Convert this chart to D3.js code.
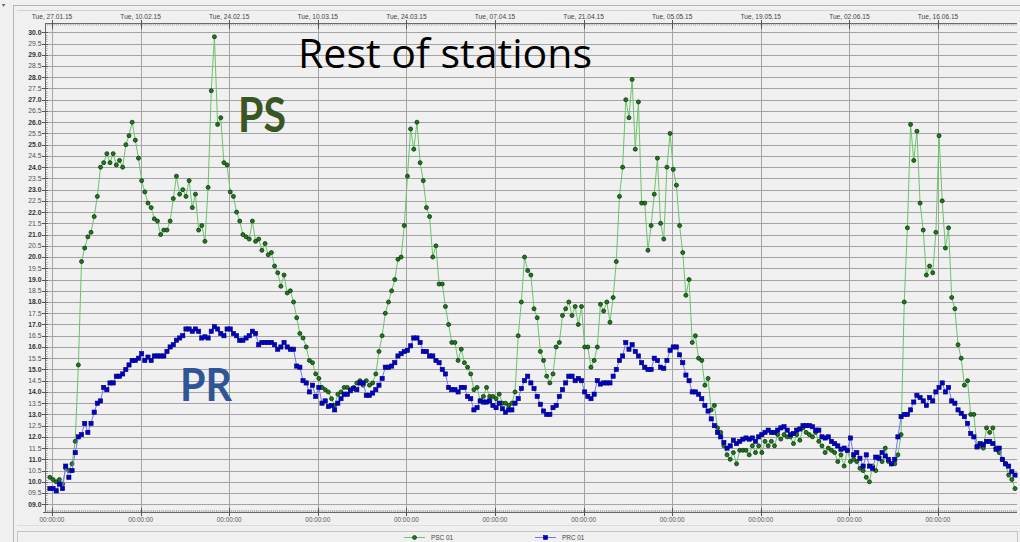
<!DOCTYPE html>
<html><head><meta charset="utf-8">
<script src="https://cdn.jsdelivr.net/npm/d3@7"></script>
<style>body{margin:0;background:#f0f0f0}svg{display:block}</style>
</head><body><svg id="c" width="1020" height="542"></svg>
<script>
const title = "Rest of stations";
const seriesNames = ["PSC 01", "PRC 01"];
const annotations = ["PS", "PR"];
const topTickLabels = ["Tue, 27.01.15","Tue, 10.02.15","Tue, 24.02.15","Tue, 10.03.15","Tue, 24.03.15","Tue, 07.04.15","Tue, 21.04.15","Tue, 05.05.15","Tue, 19.05.15","Tue, 02.06.15","Tue, 16.06.15"];
const bottomTickLabel = "00:00:00";
const startTime = "2015-01-26T16:00:00Z";
const stepHours = 12;
const yMin = 9, yMax = 30, yStep = 0.5;

const psValues = [
10.2,10.1,10.0,10.1,9.9,10.6,10.5,10.8,11.8,15.2,
19.8,20.4,20.9,21.1,21.8,22.7,24.0,24.2,24.6,24.2,
24.6,24.1,24.3,24.0,25.0,25.4,26.0,25.2,24.4,23.4,
22.9,22.4,22.2,21.7,21.6,21.0,21.2,21.2,21.6,22.6,
23.6,22.8,23.0,22.7,23.4,22.2,22.8,21.2,21.4,20.7,
23.1,27.4,29.8,25.9,26.2,24.2,24.1,22.9,22.7,22.0,
21.6,21.0,20.9,20.8,21.6,20.7,20.8,20.3,20.6,20.1,
20.2,19.6,19.3,18.7,19.2,18.4,18.5,18.0,17.3,16.6,
16.4,16.0,15.4,15.3,14.8,14.6,14.2,14.1,14.0,13.7,
13.4,13.9,14.0,14.2,14.2,14.1,14.2,14.4,14.5,14.3,
14.5,14.3,14.4,14.8,15.8,16.5,17.5,18.0,18.5,19.0,
19.9,20.0,21.4,23.6,25.7,24.8,26.0,24.2,23.4,22.2,
21.8,20.0,20.5,18.8,18.8,17.8,17.0,16.2,16.2,15.4,
15.9,15.3,15.1,14.8,14.1,14.2,13.6,13.8,14.2,13.8,
13.8,13.7,13.9,13.5,13.5,13.4,13.5,14.0,16.5,18.0,
20.0,19.4,19.2,17.7,17.3,15.8,15.4,14.7,14.4,14.8,
16.0,16.2,17.4,17.7,18.0,17.4,17.8,17.0,17.8,16.0,
16.0,15.1,15.4,16.0,17.9,17.6,18.0,17.1,18.2,19.8,
22.7,24.0,27.0,26.2,27.9,24.8,26.9,22.4,22.4,20.3,
21.4,22.8,24.4,21.5,20.8,24.0,25.5,23.9,23.2,21.4,
20.2,18.3,19.0,16.2,16.5,15.5,15.4,14.3,14.6,13.2,
13.4,12.4,12.2,11.6,11.2,11.0,11.3,10.8,11.4,11.4,
11.4,11.2,11.6,11.3,11.6,11.3,11.8,11.6,11.8,11.6,
12.1,11.9,12.1,12.0,12.0,11.7,12.1,11.85,12.4,12.2,
12.1,12.0,12.2,11.8,11.6,11.3,11.5,11.4,11.3,10.9,
11.2,10.7,11.4,10.9,11.0,10.9,10.6,10.5,10.2,10.0,
10.7,10.5,11.1,10.9,11.5,10.9,10.8,10.8,11.2,12.1,
18.0,21.3,25.9,24.3,25.6,22.4,21.2,19.2,19.6,19.3,
21.1,25.4,22.5,20.4,21.3,18.2,17.7,16.1,15.5,14.3,
14.5,13.0,13.0,11.6,11.6,11.5,12.4,12.2,12.4,11.5,
11.3,11.0,10.8,10.3,10.1,9.7
];

const prValues = [
9.7,9.7,9.6,9.9,9.7,10.7,10.2,10.5,11.3,12.0,
12.1,12.6,12.2,12.6,13.1,13.5,13.6,14.2,14.1,14.4,
14.4,14.7,14.7,14.8,15.0,15.2,15.4,15.4,15.5,15.7,
15.4,15.55,15.4,15.6,15.6,15.6,15.6,15.8,16.0,16.1,
16.3,16.4,16.5,16.8,16.8,16.7,16.8,16.7,16.4,16.45,
16.4,16.7,16.9,16.8,16.6,16.5,16.8,16.8,16.6,16.5,
16.3,16.3,16.4,16.5,16.7,16.6,16.1,16.2,16.2,16.2,
16.2,16.1,15.9,16.0,16.2,16.0,15.9,15.9,15.15,15.1,
14.5,14.4,14.0,14.3,13.8,14.2,13.5,13.6,13.35,13.4,
13.2,13.5,13.7,13.9,13.9,14.05,14.15,14.1,14.4,14.4,
13.85,13.85,13.95,14.1,14.3,14.6,15.1,15.1,15.15,15.3,
15.6,15.7,15.8,15.85,16.05,16.4,16.4,16.2,15.8,15.8,
15.6,15.6,15.4,15.3,15.0,14.8,14.2,14.1,14.1,14.0,
14.2,14.2,13.8,13.7,13.2,13.3,13.6,13.55,13.55,13.6,
13.4,13.3,13.5,13.25,13.1,13.2,13.2,13.5,13.7,14.15,
14.5,14.7,14.4,14.15,13.8,13.45,13.15,13.0,13.0,13.3,
13.4,13.8,14.1,14.4,14.7,14.7,14.5,14.6,14.5,14.0,
13.8,13.7,13.9,14.5,14.35,14.4,14.4,14.4,14.7,15.0,
15.4,15.6,16.2,15.9,16.1,15.8,15.6,15.3,15.1,15.0,
15.0,15.5,15.4,15.1,15.05,15.4,15.85,16.0,16.0,15.65,
15.3,14.75,14.5,14.0,14.0,13.9,13.7,13.4,13.15,12.8,
12.5,12.2,12.0,11.75,11.5,11.6,11.85,11.7,11.8,11.9,
11.95,11.9,11.95,11.8,12.0,12.1,12.2,12.3,12.2,12.2,
12.3,12.4,12.45,12.3,12.1,12.15,12.3,12.35,12.5,12.5,
12.5,12.45,12.3,12.3,12.0,11.95,12.0,11.8,11.7,11.6,
11.45,11.5,11.4,11.95,11.2,11.3,11.05,10.7,11.2,10.7,
10.6,11.1,11.05,11.3,11.15,11.0,10.8,11.0,12.0,12.9,
13.0,13.0,13.2,13.55,13.85,13.75,13.6,13.4,13.75,13.6,
14.0,14.2,14.4,14.0,14.2,13.6,13.5,13.2,13.05,12.9,
12.6,12.15,12.0,11.55,11.7,11.65,11.8,11.8,11.7,11.45,
11.5,11.0,10.8,10.7,10.45,10.3
];

const svg = d3.select("#c");
const W = 1020, H = 542;
const axisX = 45, rightX = 1017, rulerY = 23, bottomY = 512;
const parseTick = d3.utcParse("%a, %d.%m.%y");
const tickDates = topTickLabels.map(parseTick);
const t0 = new Date(startTime);
const timeAt = i => new Date(t0.getTime() + i * stepHours * 3600e3);

const x = d3.scaleUtc().domain([tickDates[0], tickDates[tickDates.length - 1]]).range([52, 938]);
const y = d3.scaleLinear().domain([yMin, yMax]).range([504.3, 32.3]);
const xEnd = x.invert(rightX), xStart = x.invert(axisX);

svg.append("rect").attr("width", W).attr("height", H).attr("fill", "#f0f0f0");
svg.append("rect").attr("x", 13.5).attr("y", 5.5).attr("width", W).attr("height", H)
  .attr("fill", "none").attr("stroke", "#b4b4b4");
svg.append("line").attr("x1", 17).attr("x2", W).attr("y1", 10.5).attr("y2", 10.5).attr("stroke", "#d2d2d2");
svg.append("text").attr("x", 2).attr("y", 7).attr("font-size", 6).attr("fill", "#555")
  .attr("font-family", "Liberation Sans, Arial").text("▾");

const yTicks = d3.range(yMin, yMax + 1e-9, yStep);
svg.append("g").selectAll("line").data(yTicks).join("line")
  .attr("x1", axisX).attr("x2", rightX)
  .attr("y1", d => Math.round(y(d)) + 0.5).attr("y2", d => Math.round(y(d)) + 0.5)
  .attr("stroke", "#a4a4a4").attr("stroke-width", 1);
svg.append("g").selectAll("line").data(tickDates).join("line")
  .attr("x1", d => Math.round(x(d)) + 0.5).attr("x2", d => Math.round(x(d)) + 0.5)
  .attr("y1", rulerY).attr("y2", bottomY)
  .attr("stroke", "#a4a4a4");

const yAxisG = svg.append("g");
yAxisG.append("line").attr("x1", axisX + 0.5).attr("x2", axisX + 0.5).attr("y1", rulerY).attr("y2", bottomY).attr("stroke", "#666");
const yMinor = d3.range(yMin, yMax + 1e-9, 0.1);
yAxisG.selectAll("line.mn").data(yMinor).join("line").attr("class", "mn")
  .attr("x1", axisX).attr("x2", axisX + 2.5)
  .attr("y1", d => Math.round(y(d)) + 0.5).attr("y2", d => Math.round(y(d)) + 0.5)
  .attr("stroke", "#777").attr("stroke-width", 0.6);
yAxisG.selectAll("line.mj").data(yTicks).join("line").attr("class", "mj")
  .attr("x1", axisX - 3).attr("x2", axisX + 3)
  .attr("y1", d => Math.round(y(d)) + 0.5).attr("y2", d => Math.round(y(d)) + 0.5)
  .attr("stroke", "#555");
const fmtY = d => (d < 10 ? "0" : "") + d.toFixed(1);
yAxisG.selectAll("text").data(yTicks).join("text")
  .attr("x", axisX - 3.5).attr("y", d => y(d) + 2.4)
  .attr("text-anchor", "end").attr("font-family", "Liberation Sans, Arial")
  .attr("font-size", 6.8).attr("font-weight", d => Number.isInteger(d) ? "bold" : "normal")
  .attr("fill", d => Number.isInteger(d) ? "#333" : "#555").text(fmtY);

const topG = svg.append("g");
topG.append("line").attr("x1", axisX).attr("x2", rightX).attr("y1", rulerY + 0.5).attr("y2", rulerY + 0.5).attr("stroke", "#666");
const minorTimes = d3.utcHour.every(8).range(xStart, xEnd);
topG.selectAll("line.mn").data(minorTimes).join("line").attr("class", "mn")
  .attr("x1", d => x(d)).attr("x2", d => x(d)).attr("y1", rulerY).attr("y2", rulerY + 2.5)
  .attr("stroke", "#777").attr("stroke-width", 0.6);
topG.selectAll("line.mj").data(tickDates).join("line").attr("class", "mj")
  .attr("x1", d => Math.round(x(d)) + 0.5).attr("x2", d => Math.round(x(d)) + 0.5)
  .attr("y1", rulerY - 3).attr("y2", rulerY + 6).attr("stroke", "#555");
topG.selectAll("text").data(topTickLabels).join("text")
  .attr("x", (d, i) => x(tickDates[i])).attr("y", 19)
  .attr("text-anchor", "middle").attr("font-family", "Liberation Sans, Arial")
  .attr("font-size", 6.6).attr("fill", "#444").text(d => d);

const botG = svg.append("g");
botG.append("line").attr("x1", axisX - 2).attr("x2", rightX).attr("y1", bottomY + 0.5).attr("y2", bottomY + 0.5).attr("stroke", "#666");
botG.selectAll("line.mn").data(minorTimes).join("line").attr("class", "mn")
  .attr("x1", d => x(d)).attr("x2", d => x(d)).attr("y1", bottomY - 2).attr("y2", bottomY)
  .attr("stroke", "#777").attr("stroke-width", 0.6);
botG.selectAll("line.mj").data(tickDates).join("line").attr("class", "mj")
  .attr("x1", d => Math.round(x(d)) + 0.5).attr("x2", d => Math.round(x(d)) + 0.5)
  .attr("y1", bottomY - 4).attr("y2", bottomY + 4).attr("stroke", "#555");
botG.selectAll("text").data(tickDates).join("text")
  .attr("x", d => x(d)).attr("y", 521.5)
  .attr("text-anchor", "middle").attr("font-family", "Liberation Sans, Arial")
  .attr("font-size", 6.4).attr("fill", "#555").text(bottomTickLabel);

svg.append("line").attr("x1", 17).attr("x2", W).attr("y1", 525.5).attr("y2", 525.5).attr("stroke", "#dcdcdc");
svg.append("rect").attr("x", 17.5).attr("y", 531.5).attr("width", 1000).attr("height", 20)
  .attr("fill", "#f0f0f0").attr("stroke", "#c4c4c4");

const ps = psValues.map((v, i) => ({t: timeAt(i), v}));
const pr = prValues.map((v, i) => ({t: timeAt(i), v}));
const line = d3.line().x(d => x(d.t)).y(d => y(d.v));

const plot = svg.append("g");
plot.append("path").datum(ps).attr("d", line).attr("fill", "none").attr("stroke", "#6cc46c").attr("stroke-width", 1);
plot.append("g").selectAll("circle").data(ps).join("circle")
  .attr("cx", d => x(d.t)).attr("cy", d => y(d.v)).attr("r", 2.0)
  .attr("fill", "#1f7a1f").attr("stroke", "#0b330b").attr("stroke-width", 0.8);
plot.append("path").datum(pr).attr("d", line).attr("fill", "none").attr("stroke", "#7474ff").attr("stroke-width", 1);
plot.append("g").selectAll("rect").data(pr).join("rect")
  .attr("x", d => x(d.t) - 2.1).attr("y", d => y(d.v) - 2.1).attr("width", 4.2).attr("height", 4.2)
  .attr("fill", "#0000d2").attr("stroke", "#000060").attr("stroke-width", 0.6);

const legend = [
  {name: seriesNames[0], x0: 404, type: "c", line: "#6cc46c", fill: "#1f7a1f", stroke: "#0b330b"},
  {name: seriesNames[1], x0: 535, type: "s", line: "#7474ff", fill: "#0000d2", stroke: "#000060"}
];
const lg = svg.append("g").selectAll("g").data(legend).join("g");
lg.append("line").attr("x1", d => d.x0).attr("x2", d => d.x0 + 21).attr("y1", 537.5).attr("y2", 537.5)
  .attr("stroke", d => d.line);
lg.filter(d => d.type === "c").append("circle").attr("cx", d => d.x0 + 10.5).attr("cy", 537.5).attr("r", 2.0)
  .attr("fill", d => d.fill).attr("stroke", d => d.stroke).attr("stroke-width", 0.7);
lg.filter(d => d.type === "s").append("rect").attr("x", d => d.x0 + 8.5).attr("y", 535.5).attr("width", 4).attr("height", 4)
  .attr("fill", d => d.fill).attr("stroke", d => d.stroke).attr("stroke-width", 0.6);
lg.append("text").attr("x", d => d.x0 + 27).attr("y", 540).attr("font-family", "Liberation Sans, Arial")
  .attr("font-size", 6.4).attr("fill", "#444").text(d => d.name);

svg.append("text").attr("x", 298).attr("y", 68).attr("font-family", "Open Sans, Lato, sans-serif")
  .attr("font-size", 40).attr("textLength", 294).attr("lengthAdjust", "spacingAndGlyphs")
  .attr("fill", "#000").text(title);
svg.append("text").attr("x", 238).attr("y", 132).attr("font-family", "Lato, sans-serif").attr("font-weight", "bold")
  .attr("font-size", 48).attr("textLength", 48).attr("lengthAdjust", "spacingAndGlyphs")
  .attr("fill", "#375623").text(annotations[0]);
svg.append("text").attr("x", 180).attr("y", 401).attr("font-family", "Lato, sans-serif").attr("font-weight", "bold")
  .attr("font-size", 45).attr("textLength", 52).attr("lengthAdjust", "spacingAndGlyphs")
  .attr("fill", "#2f5597").text(annotations[1]);
</script></body></html>
